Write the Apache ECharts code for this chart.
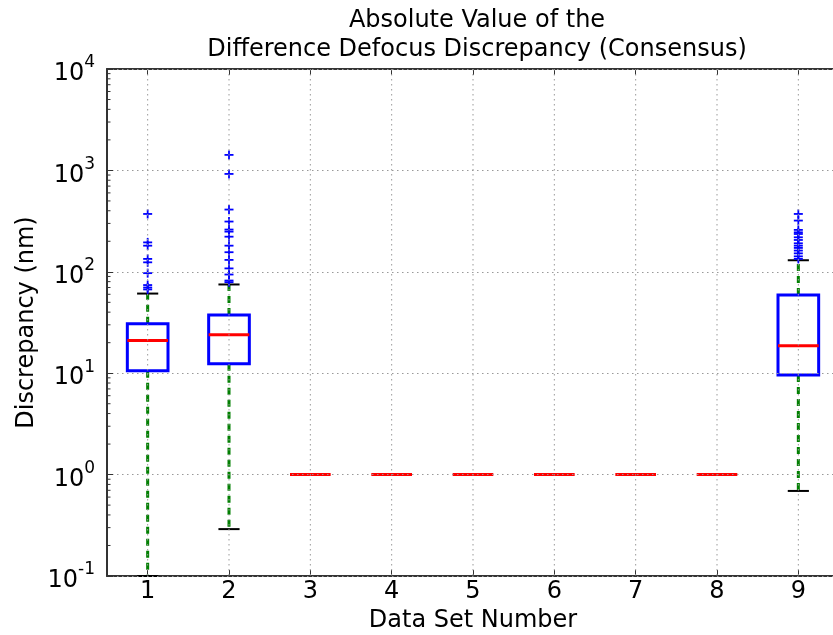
<!DOCTYPE html>
<html>
<head>
<meta charset="utf-8">
<script src="https://cdn.jsdelivr.net/npm/echarts@6/dist/echarts.min.js"></script>
<style>
  html, body { margin: 0; padding: 0; background: #fff; overflow: hidden; }
  #chart { width: 833px; height: 635px; }
</style>
</head>
<body>
<div id="chart"></div>
<script>
// Data sets along the x axis
const categories = ['1', '2', '3', '4', '5', '6', '7', '8', '9'];

// Box statistics per data set (nm)
const whiskerLow  = [0.1, 0.29, 1, 1, 1, 1, 1, 1, 0.69];
const quartile1   = [10.6, 12.4, 1, 1, 1, 1, 1, 1, 9.6];
const medians     = [21, 24, 1, 1, 1, 1, 1, 1, 18.6];
const quartile3   = [30.8, 37.6, 1, 1, 1, 1, 1, 1, 59];
const whiskerHigh = [61, 75, 1, 1, 1, 1, 1, 1, 130];

// Outliers (fliers) above the upper whisker
const fliersSet1 = [372, 195, 181, 134, 124, 97, 74, 70, 67];
const fliersSet2 = [1422, 923, 411, 313, 261, 249, 222, 181, 156, 131, 108, 94, 82, 79];
const fliersSet9 = [372, 320, 259, 245, 236, 219, 206, 191, 181, 172, 162, 152, 142, 134];

// Log axis: decades shown and minor tick multipliers inside each decade
const yDecades = [0.1, 1, 10, 100, 1000];
const minorMultipliers = [2, 3, 4, 5, 6, 7, 8, 9];

const FONT = 'DejaVu Sans';
const FONT_SIZE = 24;
const AXIS_COLOR = '#333';
const GRID_COLOR = '#999';
const GRID_DASH = [1.5, 3.5];

const boxData = categories.map((c, i) => [i, whiskerLow[i], quartile1[i], medians[i], quartile3[i], whiskerHigh[i]]);

const flierData = []
  .concat(fliersSet1.map(v => [0, v]))
  .concat(fliersSet2.map(v => [1, v]))
  .concat(fliersSet9.map(v => [8, v]));

const minorTickData = [];
yDecades.forEach(d => minorMultipliers.forEach(m => minorTickData.push([0, d * m])));

// Box, whiskers, caps and median for one data set
function renderBox(params, api) {
  const idx = api.value(0);
  const lo = api.value(1), q1 = api.value(2), md = api.value(3), q3 = api.value(4), hi = api.value(5);
  const band = api.size([1, 1])[0];
  const cx = api.coord([idx, md])[0];
  const yLo = api.coord([idx, lo])[1];
  const yQ1 = api.coord([idx, q1])[1];
  const yMd = api.coord([idx, md])[1];
  const yQ3 = api.coord([idx, q3])[1];
  const yHi = api.coord([idx, hi])[1];
  const half = band * 0.25;
  const capHalf = band * 0.13;
  const whiskerStyle = { stroke: '#008000', lineWidth: 3, lineDash: [7, 5], fill: null };
  const capStyle = { stroke: '#000', lineWidth: 2 };
  const children = [];
  if (hi > q3) {
    children.push({ type: 'line', shape: { x1: cx, y1: yQ3, x2: cx, y2: yHi }, style: whiskerStyle });
  }
  if (lo < q1) {
    children.push({ type: 'line', shape: { x1: cx, y1: yQ1, x2: cx, y2: yLo }, style: whiskerStyle });
  }
  children.push({ type: 'line', shape: { x1: cx - capHalf, y1: yHi, x2: cx + capHalf, y2: yHi }, style: capStyle });
  children.push({ type: 'line', shape: { x1: cx - capHalf, y1: yLo, x2: cx + capHalf, y2: yLo }, style: capStyle });
  if (q3 > q1) {
    children.push({
      type: 'rect',
      shape: { x: cx - half, y: yQ3, width: half * 2, height: yQ1 - yQ3 },
      style: { fill: 'none', stroke: '#0000ff', lineWidth: 3 }
    });
  }
  children.push({ type: 'line', shape: { x1: cx - half, y1: yMd, x2: cx + half, y2: yMd }, style: { stroke: '#ff0000', lineWidth: 3 } });
  return { type: 'group', children };
}

// "+" marker for an outlier
function renderFlier(params, api) {
  const p = api.coord([api.value(0), api.value(1)]);
  const s = 4.5;
  const style = { stroke: '#0000ff', lineWidth: 1.8 };
  return {
    type: 'group',
    children: [
      { type: 'line', shape: { x1: p[0] - s, y1: p[1], x2: p[0] + s, y2: p[1] }, style },
      { type: 'line', shape: { x1: p[0], y1: p[1] - s, x2: p[0], y2: p[1] + s }, style }
    ]
  };
}

// Dotted vertical grid line through each category centre
function renderVGrid(params, api) {
  const cs = params.coordSys;
  const x = api.coord([api.value(0), 1])[0];
  return {
    type: 'line',
    shape: { x1: x, y1: cs.y, x2: x, y2: cs.y + cs.height },
    style: { stroke: GRID_COLOR, lineWidth: 1, lineDash: GRID_DASH }
  };
}

// Minor log ticks on the inner side of the left axis
function renderMinorTick(params, api) {
  const cs = params.coordSys;
  const y = api.coord([0, api.value(1)])[1];
  return {
    type: 'line',
    shape: { x1: cs.x, y1: y, x2: cs.x + 3.5, y2: y },
    style: { stroke: AXIS_COLOR, lineWidth: 1 }
  };
}

const chart = echarts.init(document.getElementById('chart'), null, { renderer: 'canvas' });

chart.setOption({
  animation: false,
  backgroundColor: '#fff',
  title: {
    text: 'Absolute Value of the\nDifference Defocus Discrepancy (Consensus)',
    left: 472,
    top: 1,
    textAlign: 'center',
    textStyle: { fontFamily: FONT, fontSize: FONT_SIZE, fontWeight: 'normal', color: '#000', lineHeight: 29 }
  },
  grid: { left: 107, right: -6, top: 69, bottom: 59, containLabel: false, outerBoundsMode: 'none' },
  xAxis: [
    {
      type: 'category',
      data: categories,
      boundaryGap: true,
      position: 'bottom',
      name: 'Data Set Number',
      nameLocation: 'middle',
      nameGap: 33,
      nameMoveOverlap: false,
      nameTextStyle: { fontFamily: FONT, fontSize: FONT_SIZE, color: '#000' },
      axisLine: { show: true, lineStyle: { color: AXIS_COLOR, width: 2 } },
      axisTick: { show: true, inside: true, alignWithLabel: true, length: 6, lineStyle: { color: AXIS_COLOR, width: 1 } },
      axisLabel: { fontFamily: FONT, fontSize: FONT_SIZE, color: '#000', margin: 4 },
      splitLine: { show: false }
    },
    {
      type: 'category',
      data: categories,
      boundaryGap: true,
      position: 'top',
      axisLine: { show: true, lineStyle: { color: AXIS_COLOR, width: 2 } },
      axisTick: { show: true, inside: true, alignWithLabel: true, length: 6, lineStyle: { color: AXIS_COLOR, width: 1 } },
      axisLabel: { show: false },
      splitLine: { show: false }
    }
  ],
  yAxis: {
    type: 'log',
    logBase: 10,
    min: 0.1,
    max: 10000,
    z: 10,
    name: 'Discrepancy (nm)',
    nameLocation: 'middle',
    nameGap: 68,
    nameMoveOverlap: false,
    nameTextStyle: { fontFamily: FONT, fontSize: FONT_SIZE, color: '#000' },
    axisLine: { show: true, lineStyle: { color: AXIS_COLOR, width: 2 } },
    axisTick: { show: true, inside: true, length: 6, lineStyle: { color: AXIS_COLOR, width: 1 } },
    axisLabel: {
      margin: 12,
      padding: [10, 0, 0, 0],
      formatter: v => '{b|10}{s|' + Math.round(Math.log10(v)) + '}',
      rich: {
        b: { fontFamily: FONT, fontSize: FONT_SIZE, color: '#000', lineHeight: 39 },
        s: { fontFamily: FONT, fontSize: 17, color: '#000', lineHeight: 17, verticalAlign: 'top' }
      }
    },
    splitLine: { show: true, lineStyle: { color: GRID_COLOR, width: 1, type: GRID_DASH } }
  },
  series: [
    {
      type: 'custom',
      name: 'boxes',
      silent: true,
      z: 3,
      renderItem: renderBox,
      encode: { x: 0, y: [1, 2, 3, 4, 5] },
      data: boxData
    },
    {
      type: 'custom',
      name: 'fliers',
      silent: true,
      z: 4,
      renderItem: renderFlier,
      encode: { x: 0, y: 1 },
      data: flierData
    },
    {
      type: 'custom',
      name: 'vertical grid',
      silent: true,
      z: 10,
      renderItem: renderVGrid,
      encode: { x: 0 },
      data: categories.map((c, i) => [i])
    },
    {
      type: 'custom',
      name: 'minor ticks',
      silent: true,
      z: 11,
      renderItem: renderMinorTick,
      encode: { x: 0, y: 1 },
      data: minorTickData
    }
  ]
});
</script>
</body>
</html>
